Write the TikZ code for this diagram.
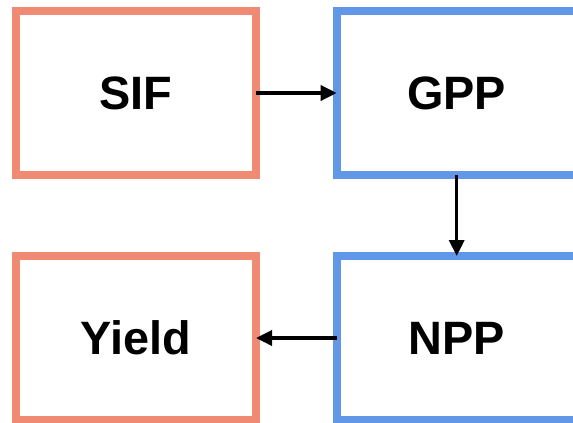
\documentclass[tikz,border=0pt]{standalone}
\usepackage{fontspec}
\setmainfont{Liberation Sans}
\usetikzlibrary{
  positioning,
  arrows.meta
}
\definecolor{boxsalmon}{RGB}{241,138,114}
\definecolor{boxblue}{RGB}{98,150,230}
\tikzset{
  >={Triangle[length=16bp,width=15bp]},
  qty/.style={
    draw,
    line width=8bp,
    outer sep=0pt,
    minimum width=240bp,
    minimum height=164bp,
    font=\fontsize{47}{50}\selectfont\bfseries
  },
  obs/.style={qty, draw=boxsalmon},
  flux/.style={qty, draw=boxblue},
  link/.style={->, line width=3.5bp}
}

\begin{document}
\begin{tikzpicture}[x=1bp,y=-1bp]
\useasboundingbox (0,0) rectangle (573,422);
\coordinate (P1) at (136,93);
\coordinate (P2) at (456.7,93);
\coordinate (P3) at (136,338);
\coordinate (P4) at (456.7,338);
\node[obs]  (sif)   at (P1) {SIF};
\node[flux] (gpp)   at (P2) {GPP};
\node[obs]  (yield) at (P3) {Yield};
\node[flux] (npp)   at (P4) {NPP};
\draw[link] (sif) -- (gpp);
\draw[link] (gpp) -- (npp);
\draw[link] (npp) -- (yield);
\end{tikzpicture}
\end{document}
